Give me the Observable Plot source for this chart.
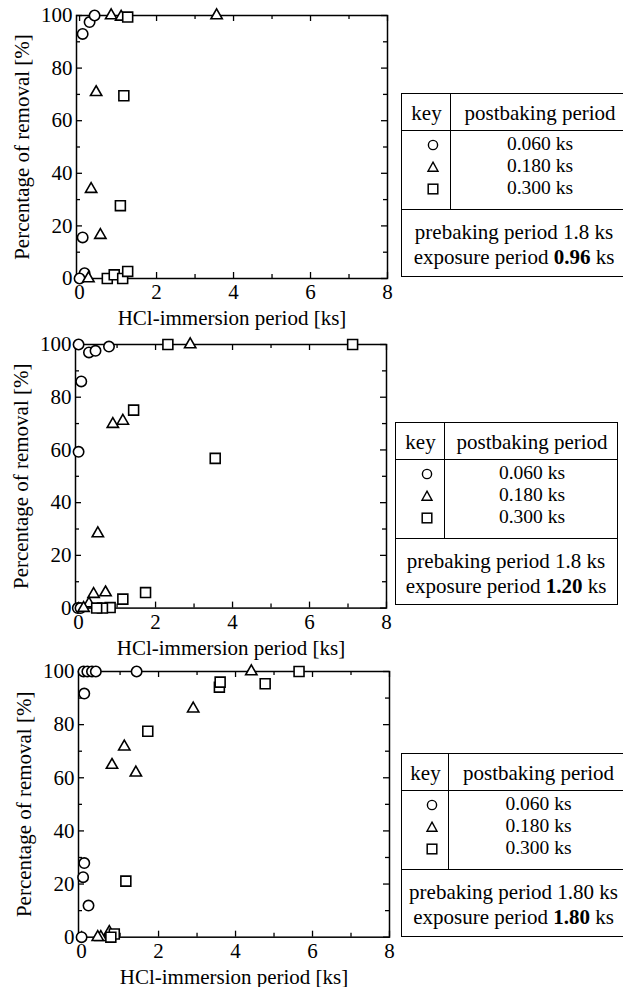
<!DOCTYPE html>
<html>
<head>
<meta charset="utf-8">
<script src="https://cdn.jsdelivr.net/npm/d3@7"></script>
<script src="https://cdn.jsdelivr.net/npm/@observablehq/plot@0.6"></script>
<style>
  html, body { margin: 0; padding: 0; background: #fff; }
  body { width: 623px; height: 987px; overflow: hidden; position: relative; font-family: "Liberation Serif", "Times New Roman", serif; color: #000; }
  .panel { position: absolute; }
  .legend { position: absolute; border: 1.5px solid #000; box-sizing: border-box; background: #fff; font-size: 21px; font-family: "Liberation Serif", "Times New Roman", serif; }
  .legend .hdr { position: absolute; left: 0; right: 0; top: 0; height: 36px; border-bottom: 1.5px solid #000; }
  .legend .sep { position: absolute; top: 0; height: 115px; border-left: 1.5px solid #000; }
  .legend .mid { position: absolute; left: 0; right: 0; top: 115px; border-top: 1.5px solid #000; }
  .legend .cell { position: absolute; text-align: center; white-space: nowrap; }
  .legend .row { font-size: 19.5px; }
  .legend b { font-weight: bold; }
</style>
</head>
<body>
<script>
// ---------- data ----------
const xMajor = [0, 2, 4, 6, 8];
const xMinor = [1, 3, 5, 7];
const yMajor = [0, 20, 40, 60, 80, 100];
const yMinor = [10, 30, 50, 70, 90];
const xTitle = "HCl-immersion period [ks]";
const yTitle = "Percentage of removal [%]";
const keyHeader = ["key", "postbaking period"];
const postbaking = ["0.060 ks", "0.180 ks", "0.300 ks"];
const prebaking = ["1.8", "1.8", "1.80"];
const exposure = ["0.96", "1.20", "1.80"];

// panel 1 (exposure 0.96 ks)
const p1CircleX = [0.08, 0.26, 0.39, 0.08, 0.13, 0.0];
const p1CircleY = [93, 97.5, 100, 15.6, 2, 0];
const p1TriX = [0.82, 1.08, 3.56, 0.43, 0.30, 0.54, 0.23];
const p1TriY = [100, 99.5, 100, 70.8, 34, 16.5, 0];
const p1SqX = [1.25, 1.15, 1.06, 0.72, 0.90, 1.12, 1.25];
const p1SqY = [99.4, 69.5, 27.7, 0, 1.4, 0, 2.7];

// panel 2 (exposure 1.20 ks)
const p2CircleX = [0.0, 0.27, 0.44, 0.79, 0.07, 0.0, -0.02, 0.05];
const p2CircleY = [100, 97, 97.6, 99.2, 86, 59.3, 0, 0];
const p2TriX = [2.90, 0.89, 1.15, 0.50, 0.39, 0.70, 0.27, 0.13];
const p2TriY = [100, 69.8, 71, 28.3, 5.3, 5.9, 1.7, 0];
const p2SqX = [2.32, 7.12, 1.43, 3.55, 1.74, 1.15, 0.82, 0.62, 0.47];
const p2SqY = [100, 100, 75.1, 56.8, 5.9, 3.4, 0.2, 0, 0];

// panel 3 (exposure 1.80 ks)
const p3CircleX = [0.05, 0.15, 0.27, 0.37, 1.43, 0.07, 0.07, 0.04, 0.18, 0.0];
const p3CircleY = [100, 100, 100, 100, 100, 91.7, 27.9, 22.6, 11.9, 0];
const p3TriX = [4.41, 2.90, 1.11, 0.79, 1.41, 0.72, 0.50, 0.42];
const p3TriY = [100, 86, 71.7, 64.8, 61.9, 1.9, 0, 0];
const p3SqX = [5.65, 3.58, 3.60, 4.77, 1.72, 1.15, 0.85, 0.76];
const p3SqY = [100, 94.1, 96, 95.4, 77.5, 21.1, 1.2, 0];

// ---------- drawing ----------
const FONT = '"Liberation Serif", "Times New Roman", serif';
const FS = 21;
const W = 395, ML = 76, MR = 8, MT = 10, MB = 52;
const FW = W - ML - MR;

function pts(xs, ys) { return xs.map((x, i) => ({x, y: ys[i]})); }

function panel(cx, cy, tx, ty, sx, sy, frameH) {
  const H = MT + frameH + MB;
  return Plot.plot({
    width: W, height: H,
    marginLeft: ML, marginRight: MR, marginTop: MT, marginBottom: MB,
    x: {domain: [-0.08, 8]},
    y: {domain: [0, 100]},
    style: {fontFamily: FONT, fontSize: FS + "px", background: "white", color: "black", overflow: "visible"},
    marks: [
      Plot.frame({stroke: "black", strokeWidth: 1.5}),
      Plot.tickY(yMajor, {y: d => d, insetRight: FW - 6, stroke: "black", strokeWidth: 1.3}),
      Plot.tickY(yMajor, {y: d => d, insetLeft: FW - 6, stroke: "black", strokeWidth: 1.3}),
      Plot.tickY(yMinor, {y: d => d, insetRight: FW - 4, stroke: "black", strokeWidth: 1.3}),
      Plot.tickY(yMinor, {y: d => d, insetLeft: FW - 4, stroke: "black", strokeWidth: 1.3}),
      Plot.tickX(xMajor, {x: d => d, insetTop: frameH - 6, stroke: "black", strokeWidth: 1.3}),
      Plot.tickX(xMajor, {x: d => d, insetBottom: frameH - 6, stroke: "black", strokeWidth: 1.3}),
      Plot.tickX(xMinor, {x: d => d, insetTop: frameH - 4, stroke: "black", strokeWidth: 1.3}),
      Plot.tickX(xMinor, {x: d => d, insetBottom: frameH - 4, stroke: "black", strokeWidth: 1.3}),
      Plot.axisX({ticks: xMajor, tickSize: 0, tickPadding: 6, fontSize: FS, fontFamily: FONT, label: null, fill: "black"}),
      Plot.axisY({ticks: yMajor, tickSize: 0, tickPadding: 4, fontSize: FS, fontFamily: FONT, label: null, fill: "black"}),
      Plot.text([xTitle], {text: d => d, frameAnchor: "bottom", lineAnchor: "middle", textAnchor: "middle", dy: 40, fontSize: FS, fontFamily: FONT, fill: "black"}),
      Plot.text([yTitle], {text: d => d, frameAnchor: "left", lineAnchor: "middle", textAnchor: "middle", rotate: -90, dx: -54, fontSize: FS, fontFamily: FONT, fill: "black"}),
      Plot.dot(pts(cx, cy), {x: "x", y: "y", symbol: "circle", r: 5.2, fill: "white", stroke: "black", strokeWidth: 1.6}),
      Plot.dot(pts(tx, ty), {x: "x", y: "y", symbol: "triangle", r: 4.2, fill: "white", stroke: "black", strokeWidth: 1.6}),
      Plot.dot(pts(sx, sy), {x: "x", y: "y", symbol: "square", r: 5.6, fill: "white", stroke: "black", strokeWidth: 1.6})
    ]
  });
}

const panels = [
  {data: [p1CircleX, p1CircleY, p1TriX, p1TriY, p1SqX, p1SqY], frameTop: 15, frameH: 263, left: 0,
   leg: {left: 401, top: 93, width: 227, height: 184, sep: 49}},
  {data: [p2CircleX, p2CircleY, p2TriX, p2TriY, p2SqX, p2SqY], frameTop: 343.7, frameH: 263.6, left: -1,
   leg: {left: 395, top: 422, width: 223, height: 183, sep: 49}},
  {data: [p3CircleX, p3CircleY, p3TriX, p3TriY, p3SqX, p3SqY], frameTop: 671, frameH: 265.7, left: 2,
   leg: {left: 401, top: 753, width: 226, height: 184, sep: 47}}
];

const symSvg = [
  '<svg width="14" height="14" viewBox="-7 -7 14 14"><circle r="4.6" fill="none" stroke="#000" stroke-width="1.4"/></svg>',
  '<svg width="14" height="14" viewBox="-7 -7 14 14"><path d="M0,-4.8L5,4.2L-5,4.2Z" fill="none" stroke="#000" stroke-width="1.4"/></svg>',
  '<svg width="14" height="14" viewBox="-7 -7 14 14"><rect x="-4.8" y="-4.8" width="9.6" height="9.6" fill="none" stroke="#000" stroke-width="1.5"/></svg>'
];

panels.forEach((p, i) => {
  const div = document.createElement("div");
  div.className = "panel";
  div.style.left = p.left + "px";
  div.style.top = (p.frameTop - MT) + "px";
  div.appendChild(panel(...p.data, p.frameH));
  document.body.appendChild(div);

  const L = p.leg;
  const box = document.createElement("div");
  box.className = "legend";
  box.style.left = L.left + "px";
  box.style.top = L.top + "px";
  box.style.width = L.width + "px";
  box.style.height = L.height + "px";
  const rightW = L.width - L.sep;
  let html = '';
  html += '<div class="hdr"></div>';
  html += `<div class="sep" style="left:${L.sep - 1.5}px"></div>`;
  html += '<div class="mid"></div>';
  html += `<div class="cell" style="left:0;width:${L.sep}px;top:7px;line-height:24px">${keyHeader[0]}</div>`;
  html += `<div class="cell" style="left:${L.sep}px;width:${rightW}px;top:7px;line-height:24px">${keyHeader[1]}</div>`;
  for (let k = 0; k < 3; k++) {
    const top = 40 + k * 22;
    html += `<div class="cell" style="left:6px;width:${L.sep}px;top:${top}px;height:22px;display:flex;align-items:center;justify-content:center">${symSvg[k]}</div>`;
    html += `<div class="cell row" style="left:${L.sep}px;width:${rightW}px;top:${top - 1}px;line-height:22px;height:22px">${postbaking[k]}</div>`;
  }
  html += `<div class="cell" style="left:0;width:${L.width - 3}px;top:${127.5 - 1.5}px;line-height:25px">prebaking period ${prebaking[i]} ks</div>`;
  html += `<div class="cell" style="left:0;width:${L.width - 3}px;top:${152.5 - 1.5}px;line-height:25px">exposure period <b>${exposure[i]}</b> ks</div>`;
  box.innerHTML = html;
  document.body.appendChild(box);
});
</script>
</body>
</html>
